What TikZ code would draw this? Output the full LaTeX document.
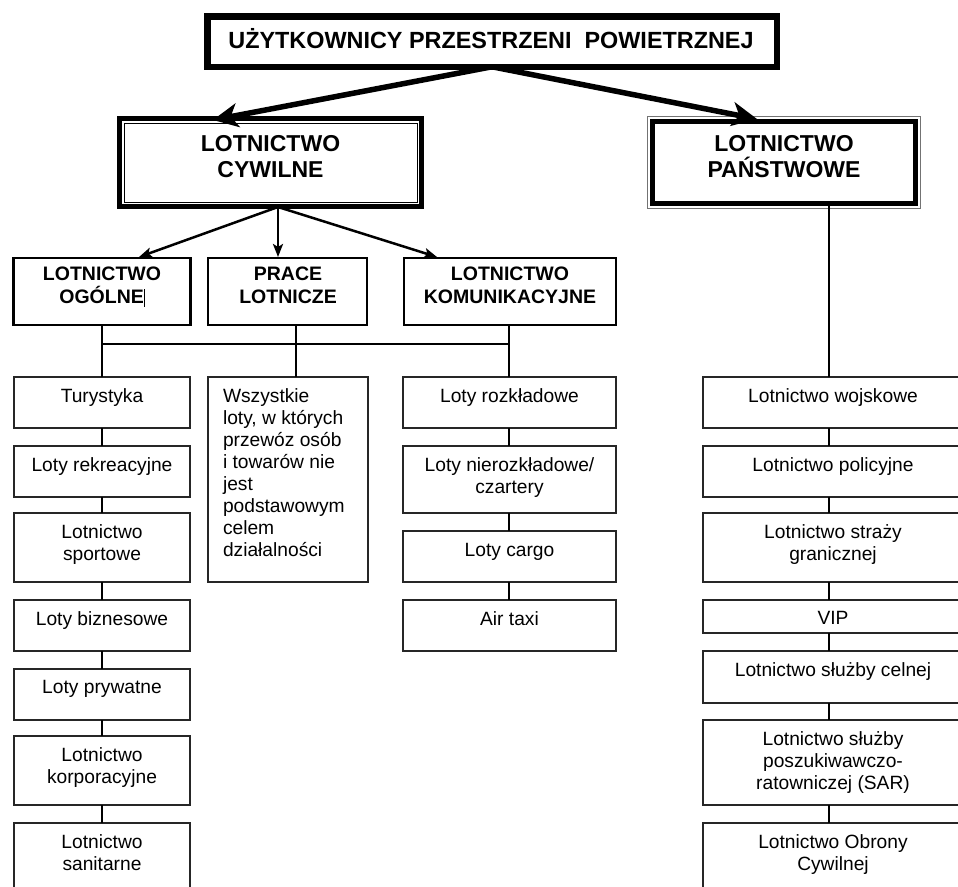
\documentclass[tikz,border=0pt]{standalone}
\usepackage{fontspec}
\setmainfont{Liberation Sans}
\usetikzlibrary{arrows.meta}
\newcommand\lbx[5]{\node[lowbox, minimum width=#4pt, minimum height=#5pt] (#1) at (#2,#3) {};}
\newcommand\mbx[5]{\node[midbox, minimum width=#4pt, minimum height=#5pt] (#1) at (#2,#3) {};}
\begin{document}
\begin{tikzpicture}[x=1pt,y=-1pt,
  lowbox/.style={draw=black!85, line width=1.3pt, inner sep=0pt, outer sep=0pt, anchor=north west},
  midbox/.style={draw=black, line width=2.3pt, inner sep=0pt, outer sep=0pt, anchor=north west},
  txt/.style={font=\fontsize{19.2}{22}\selectfont, align=center, inner sep=0pt, outer sep=0pt, anchor=north, text=black},
  midtxt/.style={font=\fontsize{19.5}{23}\selectfont\bfseries, align=center, inner sep=0pt, outer sep=0pt, anchor=north},
  bigtxt/.style={font=\fontsize{23}{26.5}\selectfont\bfseries, align=center, inner sep=0pt, outer sep=0pt, anchor=north},
  conn/.style={draw=black, line width=2.2pt},
  bigarrow/.style={draw=black, line width=5.5pt, -{Stealth[length=25pt,width=24pt,inset=7pt]}},
  smallarrow/.style={draw=black, line width=2.5pt, -{Stealth[length=13pt,width=10pt,inset=3pt]}},
]
\useasboundingbox (0,0) rectangle (958,886);
\clip (0,0) rectangle (958,886);

% top box
\node[draw=black, line width=6.5pt, minimum width=569.5pt, minimum height=50.5pt, inner sep=0pt, outer sep=0pt] (top) at (492,41.5) {};
\node[font=\fontsize{23.4}{24.5}\selectfont\bfseries, inner sep=0pt, anchor=base] (topt) at (491,48) {UŻYTKOWNICY PRZESTRZENI\ \ POWIETRZNEJ};

% civil box (thick outer, thin inner)
\node[draw=black, line width=4.5pt, minimum width=302pt, minimum height=88pt, inner sep=0pt, outer sep=0pt] (civ) at (270.5,162.5) {};
\draw[line width=1pt] ([shift={(4.5,4.5)}]civ.north west) rectangle ([shift={(-4.5,-4.5)}]civ.south east);
\node[bigtxt] (civt) at (270.5,135) {LOTNICTWO\\CYWILNE};

% state box (thin outer, thick inner)
\node[draw=black, line width=5pt, minimum width=263pt, minimum height=82pt, inner sep=0pt, outer sep=0pt] (sta) at (784,162.5) {};
\draw[line width=1pt, black!55] ([shift={(-5,-5)}]sta.north west) rectangle ([shift={(5,5)}]sta.south east);
\node[bigtxt] (stat) at (784,135) {LOTNICTWO\\PAŃSTWOWE};

% big arrows
\coordinate (civtip) at (213,120);
\coordinate (statip) at (757,119);
\draw[bigarrow] (top.south) -- (civtip);
\draw[bigarrow] (top.south) -- (statip);

% second level
\mbx{og}{13.5}{258}{177}{67}
\mbx{pr}{208}{258}{159}{67}
\mbx{ko}{404}{258}{212}{67}
\node[midtxt] (ogt) at (102,267) {LOTNICTWO\\OGÓLNE\rule[-3pt]{0.8pt}{18pt}};
\node[midtxt] (prt) at (288,267) {PRACE\\LOTNICZE};
\node[midtxt] (kot) at (510,267) {LOTNICTWO\\KOMUNIKACYJNE};

\coordinate (co) at (278,207);
\coordinate (ogtip) at (139,257);
\coordinate (prtip) at (278,257);
\coordinate (kotip) at (437,257);
\draw[smallarrow] (co) -- (ogtip);
\draw[smallarrow] (co) -- (prtip);
\draw[smallarrow] (co) -- (kotip);

% lower boxes
\lbx{tur}{14}{377}{176}{51}
\lbx{rek}{14}{446}{176}{51}
\lbx{spo}{14}{513}{176}{69}
\lbx{biz}{14}{600}{176}{51}
\lbx{pry}{14}{669}{176}{51}
\lbx{kor}{14}{736}{176}{69}
\lbx{san}{14}{823}{176}{80}
\lbx{prd}{208}{377}{160}{205}
\lbx{roz}{403}{377}{213}{51}
\lbx{nie}{403}{446}{213}{67}
\lbx{car}{403}{531}{213}{51}
\lbx{air}{403}{600}{213}{51}
\lbx{woj}{703}{377}{259}{51}
\lbx{pol}{703}{446}{259}{51}
\lbx{str}{703}{513}{259}{69}
\lbx{vip}{703}{600}{259}{33}
\lbx{cel}{703}{651}{259}{52}
\lbx{sar}{703}{720}{259}{85}
\lbx{obr}{703}{823}{259}{80}

% texts
\node[txt] (tur-t) at (102,388.5) {Turystyka};
\node[txt] (rek-t) at (102,457.5) {Loty rekreacyjne};
\node[txt] (spo-t) at (102,524.5) {Lotnictwo\\sportowe};
\node[txt] (biz-t) at (102,611.5) {Loty biznesowe};
\node[txt] (pry-t) at (102,680.5) {Loty prywatne};
\node[txt] (kor-t) at (102,747.5) {Lotnictwo\\korporacyjne};
\node[txt] (san-t) at (102,834.5) {Lotnictwo\\sanitarne};
\node[txt, align=left, anchor=north west] (prd-t) at (223,388.5) {Wszystkie\\loty, w których\\przewóz osób\\i towarów nie\\jest\\podstawowym\\celem\\działalności};
\node[txt] (roz-t) at (509.5,388.5) {Loty rozkładowe};
\node[txt] (nie-t) at (509.5,457.5) {Loty nierozkładowe/\\czartery};
\node[txt] (car-t) at (509.5,543) {Loty cargo};
\node[txt] (air-t) at (509.5,611.5) {Air taxi};
\node[txt] (woj-t) at (833,388.5) {Lotnictwo wojskowe};
\node[txt] (pol-t) at (833,457.5) {Lotnictwo policyjne};
\node[txt] (str-t) at (833,524.5) {Lotnictwo straży\\granicznej};
\node[txt] (vip-t) at (833,611) {VIP};
\node[txt] (cel-t) at (833,662.5) {Lotnictwo służby celnej};
\node[txt] (sar-t) at (833,731.5) {Lotnictwo służby\\poszukiwawczo-\\ratowniczej (SAR)};
\node[txt] (obr-t) at (833,834.5) {Lotnictwo Obrony\\Cywilnej};

% connectors
\coordinate (xa) at (102,0);
\coordinate (xb) at (296,0);
\coordinate (xc) at (509,0);
\coordinate (xd) at (829,0);
\coordinate (hy) at (0,344);
\draw[conn] (og.south -| xa) -- (hy -| xa) -- (tur.north -| xa);
\draw[conn] (pr.south -| xb) -- (hy -| xb) -- (prd.north -| xb);
\draw[conn] (ko.south -| xc) -- (hy -| xc) -- (roz.north -| xc);
\draw[conn] (hy -| xa) -- (hy -| xc);
\foreach \a/\b in {tur/rek,rek/spo,spo/biz,biz/pry,pry/kor,kor/san}
  \draw[conn] (\a.south -| xa) -- (\b.north -| xa);
\foreach \a/\b in {roz/nie,nie/car,car/air}
  \draw[conn] (\a.south -| xc) -- (\b.north -| xc);
\draw[conn] (sta.south -| xd) -- (woj.north -| xd);
\foreach \a/\b in {woj/pol,pol/str,str/vip,vip/cel,cel/sar,sar/obr}
  \draw[conn] (\a.south -| xd) -- (\b.north -| xd);
\end{tikzpicture}
\end{document}
